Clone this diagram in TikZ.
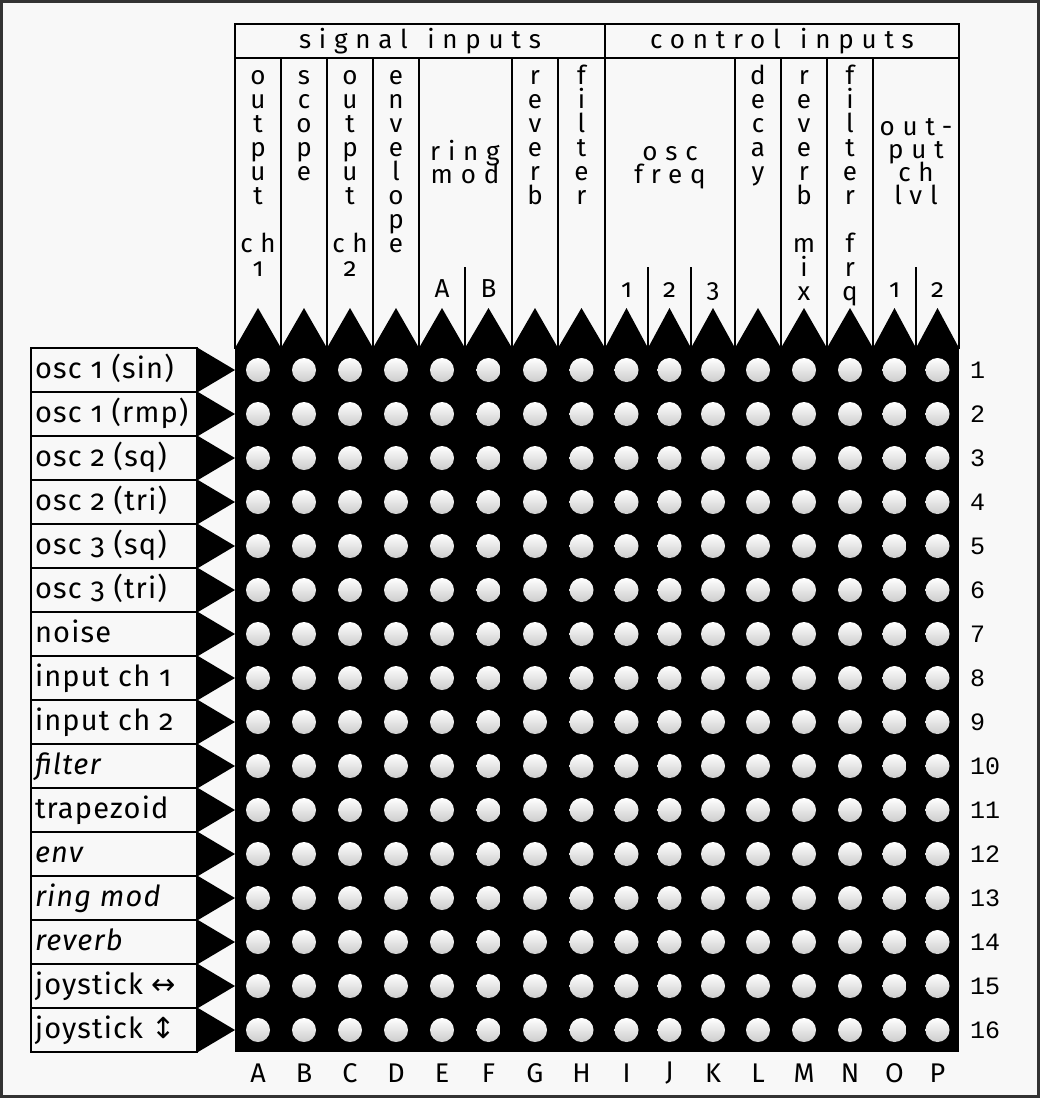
\documentclass[tikz,border=0pt]{standalone}
\usepackage{fontspec}
\setmainfont{Fira Sans}[Numbers=OldStyle]
\newfontfamily\spaced{Fira Sans}[Numbers=OldStyle, LetterSpace=30]
\newfontfamily\lblfont{Fira Sans}[Numbers=OldStyle, LetterSpace=4]
\newfontfamily\arrowfont{DejaVu Sans}
\newfontfamily\numfont{Liberation Mono}
\definecolor{paper}{HTML}{F8F8F8}
\definecolor{frame}{HTML}{333333}

\begin{document}
\begin{tikzpicture}[x=1pt,y=-1pt,line width=2pt,
  hdr/.style={font=\spaced\fontsize{26}{26}\selectfont,inner sep=0pt,anchor=base},
  stack/.style={font=\spaced\fontsize{26}{26}\selectfont,inner sep=0pt,anchor=base},
  srclbl/.style={font=\lblfont\fontsize{29}{29}\selectfont,inner sep=0pt,anchor=base west},
  rownum/.style={font=\numfont\fontsize{25}{25}\selectfont,inner sep=0pt,anchor=west},
  collbl/.style={font=\fontsize{27}{27}\selectfont,inner sep=0pt},
  dot/.style={top color=white,middle color=white,bottom color=black!20}]
\fill[frame](0,0) rectangle (1040,1098);
\fill[paper](3,3) rectangle (1037,1095);

% header boxes
\draw(235,24) rectangle (959,348);
\draw(235,58)--(959,58);
\draw(605,24)--(605,348);
\foreach \x in {281,327,373,419,512,558,735,781,827,873}
    \draw(\x,58)--(\x,348);
\foreach \x in {465,648,691,916}
    \draw(\x,267)--(\x,348);
\node[hdr](sig) at (420,48){signal\makebox[0.75em]{}inputs};
\node[hdr](ctl) at (782,48){control\makebox[0.75em]{}inputs};

% patch matrix
\fill(235,348) rectangle (959,1052);
\foreach \l/\r/\n in {235/281/A,281/327/B,327/373/C,373/419/D,419/465/E,465/512/F,512/558/G,558/605/H,605/648/I,648/691/J,691/735/K,735/781/L,781/827/M,827/873/N,873/916/O,916/959/P}
{
    \coordinate(\n) at ({(\l+\r)/2},348);
    \fill(\l,348)--(\n |- 0,308)--(\r,348)--cycle;
    \node[collbl](col\n) at (\n |- 0,1073){\n};
    \foreach \j in {1,...,16}
        \shade[dot](\n |- 0,{326+44*\j}) circle (12);
}

% column names
\foreach \c [count=\i] in {o,u,t,p,u,t,,ch,1}
    \node[stack](hA\i) at (A |- 0,{60+24*\i}){\c};
\foreach \c [count=\i] in {s,c,o,p,e}
    \node[stack](hB\i) at (B |- 0,{60+24*\i}){\c};
\foreach \c [count=\i] in {o,u,t,p,u,t,,ch,2}
    \node[stack](hC\i) at (C |- 0,{60+24*\i}){\c};
\foreach \c [count=\i] in {e,n,v,e,l,o,p,e}
    \node[stack](hD\i) at (D |- 0,{60+24*\i}){\c};
\foreach \c [count=\i] in {r,e,v,e,r,b}
    \node[stack](hG\i) at (G |- 0,{60+24*\i}){\c};
\foreach \c [count=\i] in {f,i,l,t,e,r}
    \node[stack](hH\i) at (H |- 0,{60+24*\i}){\c};
\foreach \c [count=\i] in {d,e,c,a,y}
    \node[stack](hL\i) at (L |- 0,{60+24*\i}){\c};
\foreach \c [count=\i] in {r,e,v,e,r,b,,m,i,x}
    \node[stack](hM\i) at (M |- 0,{60+24*\i}){\c};
\foreach \c [count=\i] in {f,i,l,t,e,r,,f,r,q}
    \node[stack](hN\i) at (N |- 0,{60+24*\i}){\c};
\node[stack](ring) at (465,160){ring};
\node[stack](mod) at (465,183){mod};
\node[stack](osc) at (670,160){osc};
\node[stack](freq) at (670,183){freq};
\foreach \c [count=\i] in {out-,put,ch,lvl}
    \node[stack](hO\i) at (916,{112+23*\i}){\c};
\foreach \c/\n in {A/E,B/F,1/I,2/J,3/K,1/O,2/P}
    \node[stack](sub\n) at (\n |- 0,297){\c};

% sources
\foreach \s [count=\j] in {osc 1 (sin),osc 1 (rmp),osc 2 (sq),osc 2 (tri),osc 3 (sq),osc 3 (tri),noise,input ch 1,input ch 2,\textit{filter},trapezoid,\textit{env},\textit{ring mod},\textit{reverb},joystick {\arrowfont ↔},joystick {\arrowfont ↕}}
{
    \draw(31,{304+44*\j}) rectangle (197,{348+44*\j});
    \fill(198,{304+44*\j})--(235,{326+44*\j})--(198,{348+44*\j})--cycle;
    \node[srclbl](src\j) at (34,{334.5+44*\j}){\s};
    \node[rownum](row\j) at (969,{326+44*\j}){\j};
}
\end{tikzpicture}
\end{document}
